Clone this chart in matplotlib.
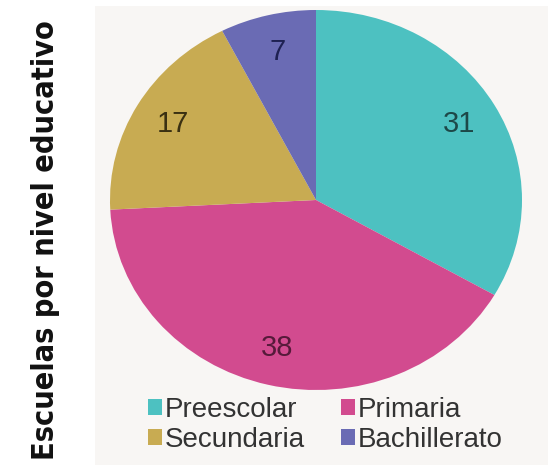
import matplotlib
matplotlib.use('Agg')
import matplotlib.pyplot as plt

# datos del gráfico
niveles = ['Preescolar', 'Primaria', 'Secundaria', 'Bachillerato']
escuelas = [31, 38, 17, 7]
colores = ['#4dc1c1', '#d24b8f', '#c8ab52', '#6a6bb4']
colores_texto = ['#1d4848', '#561a3a', '#3a3012', '#1e2152']
titulo = 'Escuelas por nivel educativo'

plt.rcParams['font.family'] = ['Liberation Sans', 'DejaVu Sans']

fig = plt.figure(figsize=(5.48, 4.65), dpi=100)
fig.patch.set_facecolor('white')
# fondo gris claro del área del gráfico
fondo = fig.add_axes([95 / 548, 0, 1 - 95 / 548, 1 - 6 / 465])
fondo.set_facecolor('#f8f6f4')
fondo.set_xticks([])
fondo.set_yticks([])
for s in fondo.spines.values():
    s.set_visible(False)

ax = fig.add_axes([110 / 548, 1 - 390 / 465, 412 / 548, 380 / 465])
ax.set_facecolor('none')
wedges, textos = ax.pie(escuelas, colors=colores, startangle=90, counterclock=False,
                        labels=[str(v) for v in escuelas], labeldistance=0.8,
                        textprops={'fontsize': 21})
for t, c in zip(textos, colores_texto):
    t.set_color(c)
    t.set_ha('center')
    t.set_va('center')
ax.set_xlim(-1, 1)
ax.set_ylim(-1, 1)
ax.set_aspect('auto')

# orden por filas: Preescolar, Primaria / Secundaria, Bachillerato
orden = [0, 2, 1, 3]
fig.legend([wedges[i] for i in orden], [niveles[i] for i in orden], ncol=2, loc='center',
           bbox_to_anchor=(325 / 548, 1 - 425 / 465),
           frameon=False, fontsize=20, handlelength=0.5, handleheight=0.5,
           handletextpad=0.1, columnspacing=1.3, labelspacing=0.15, labelcolor='#333333')

fig.text(46 / 548, 0.5 - 8 / 465, titulo, rotation=90, ha='center', va='center',
         fontsize=22, fontweight='bold', fontstretch='condensed',
         family=['DejaVu Sans', 'Liberation Sans'], color='#111111')

fig.savefig('out.png', dpi=100)
